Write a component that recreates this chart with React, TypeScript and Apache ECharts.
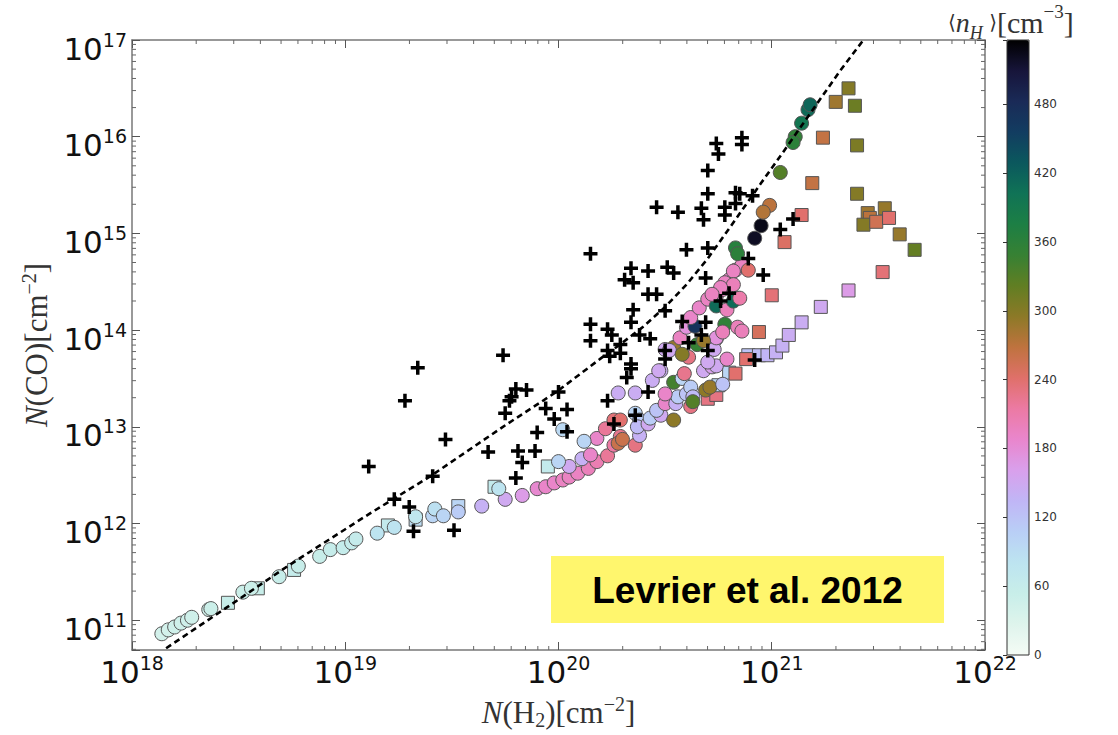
import React, { useEffect, useRef } from "react";
import * as echarts from "echarts";

// Circles: [log10 N(H2), log10 N(CO), <n_H> cm^-3]
const circles: number[][] = [
  [18.14, 10.86, 40], [18.17, 10.9, 40], [18.2, 10.93, 45], [18.23, 10.97, 45], [18.26, 11.0, 45],
  [18.28, 11.03, 45], [18.36, 11.11, 45], [18.37, 11.12, 50], [18.52, 11.29, 50], [18.56, 11.33, 50],
  [18.69, 11.45, 55], [18.78, 11.56, 55], [18.88, 11.66, 55], [18.93, 11.73, 58], [18.99, 11.75, 60],
  [19.03, 11.8, 60], [19.05, 11.84, 62], [19.15, 11.9, 80], [19.23, 11.96, 80], [19.33, 12.07, 72],
  [19.41, 12.08, 100], [19.42, 12.15, 85], [19.46, 12.08, 100], [19.53, 12.12, 110], [19.64, 12.18, 140],
  [19.75, 12.25, 150], [19.83, 12.29, 165], [19.72, 12.36, 80], [19.9, 12.36, 185], [19.94, 12.38, 190],
  [19.98, 12.42, 190], [20.02, 12.45, 195], [20.05, 12.48, 195], [20.09, 12.52, 195], [20.14, 12.57, 200],
  [20.18, 12.64, 205], [20.23, 12.7, 220], [20.26, 12.81, 215], [20.29, 12.9, 225], [20.05, 12.59, 150],
  [20.11, 12.67, 140], [20.0, 12.64, 100], [20.15, 12.71, 190], [20.18, 12.88, 190], [20.12, 12.85, 100],
  [20.22, 12.98, 220], [20.26, 13.07, 235], [20.29, 13.07, 240], [20.28, 12.83, 260], [20.3, 12.87, 260],
  [20.36, 12.81, 230], [20.36, 13.14, 100], [20.38, 13.07, 110], [20.38, 12.91, 140], [20.37, 13.0, 130],
  [20.42, 13.03, 150], [20.43, 13.09, 110], [20.48, 13.12, 150], [20.46, 13.17, 120], [20.5, 13.24, 190],
  [20.54, 13.07, 295], [20.55, 13.24, 140], [20.54, 13.46, 340], [20.58, 13.5, 100], [20.59, 13.55, 225],
  [20.56, 13.31, 110], [20.6, 13.34, 120], [20.62, 13.41, 110], [20.63, 13.31, 130], [20.62, 13.21, 230],
  [20.63, 13.26, 330], [20.68, 13.58, 150], [20.69, 13.38, 295], [20.71, 13.41, 290], [20.72, 13.62, 160],
  [20.74, 13.63, 150], [20.77, 13.44, 120], [20.28, 13.35, 145], [20.36, 13.35, 145], [20.5, 13.34, 190],
  [20.44, 13.48, 145], [20.48, 13.58, 145], [20.54, 13.82, 290], [20.61, 13.72, 230], [20.79, 13.7, 190],
  [20.74, 13.91, 150], [20.73, 13.8, 150], [20.5, 13.8, 150], [20.52, 13.79, 150], [20.57, 13.92, 195],
  [20.6, 14.03, 175], [20.64, 14.04, 470], [20.62, 14.13, 190], [20.66, 14.23, 190], [20.7, 14.32, 195],
  [20.74, 14.35, 190], [20.74, 14.25, 410], [20.79, 14.21, 200], [20.77, 14.42, 190], [20.8, 14.52, 190],
  [20.83, 14.62, 195], [20.86, 14.67, 195], [20.84, 14.33, 200], [20.82, 14.3, 410], [20.85, 14.33, 210],
  [20.78, 14.06, 355], [20.84, 14.03, 200], [20.86, 13.99, 200], [20.74, 13.92, 175], [20.89, 14.62, 240],
  [20.83, 14.85, 365], [20.84, 14.79, 360], [20.82, 14.61, 195], [20.78, 14.49, 195], [20.82, 14.47, 200],
  [20.76, 14.44, 195], [20.72, 14.37, 195], [20.65, 13.85, 350], [20.68, 13.89, 290], [20.58, 13.75, 300],
  [20.77, 13.98, 200], [20.7, 13.67, 150], [20.47, 13.58, 150], [20.95, 15.08, 525], [20.92, 14.95, 520],
  [20.99, 15.29, 270], [20.96, 15.22, 275], [21.04, 15.63, 330], [21.11, 16.0, 355], [21.1, 15.94, 360],
  [21.14, 16.14, 395], [21.17, 16.28, 410], [21.18, 16.33, 415], [20.02, 12.97, 95],
];

// Squares: [log10 N(H2), log10 N(CO), <n_H> cm^-3]
const squares: number[][] = [
  [18.45, 11.18, 55], [18.59, 11.33, 55], [18.76, 11.52, 60], [19.2, 11.98, 65], [19.33, 12.04, 90],
  [19.53, 12.18, 100], [19.7, 12.38, 65], [19.95, 12.59, 65], [20.7, 13.29, 230], [20.74, 13.33, 230],
  [20.75, 13.43, 100], [20.8, 13.56, 100], [20.83, 13.55, 240], [21.0, 14.36, 235], [20.94, 13.98, 250],
  [20.89, 13.74, 120], [20.94, 13.74, 125], [20.98, 13.74, 135], [21.02, 13.77, 140], [21.05, 13.84, 140],
  [21.08, 13.95, 145], [21.14, 14.08, 145], [21.23, 14.24, 150], [21.36, 14.41, 165], [20.88, 13.7, 240],
  [21.14, 15.19, 240], [21.06, 14.91, 245], [21.52, 14.6, 235], [21.19, 15.52, 265], [21.24, 15.99, 265],
  [21.3, 16.36, 285], [21.36, 16.5, 300], [21.39, 16.32, 315], [21.4, 15.91, 305], [21.4, 15.41, 300],
  [21.53, 15.26, 290], [21.45, 15.21, 285], [21.46, 15.16, 270], [21.43, 15.09, 300], [21.49, 15.12, 255],
  [21.55, 15.16, 240], [21.6, 14.99, 290], [21.67, 14.83, 320],
];

// Observations (black crosses): [log10 N(H2), log10 N(CO)]
const crosses: number[][] = [
  [19.11, 12.59], [19.28, 13.27], [19.34, 13.61], [19.47, 12.87], [19.41, 12.49], [19.23, 12.25],
  [19.3, 12.17], [19.32, 11.92], [19.51, 11.93], [19.67, 12.74], [19.75, 13.14], [19.77, 13.27],
  [19.78, 13.31], [19.8, 13.39], [19.85, 13.38], [19.81, 12.75], [19.83, 12.63], [19.8, 12.47],
  [19.89, 12.75], [19.9, 12.94], [19.74, 13.74], [19.94, 13.19], [20.0, 13.36], [20.04, 13.18],
  [19.98, 13.08], [20.04, 12.95], [20.23, 13.27], [20.26, 13.03], [20.36, 13.12], [20.42, 13.36],
  [20.15, 14.79], [20.15, 14.06], [20.15, 13.89], [20.23, 14.01], [20.25, 13.95], [20.23, 13.79],
  [20.24, 13.73], [20.29, 13.85], [20.29, 13.76], [20.34, 13.65], [20.34, 13.6], [20.32, 13.51],
  [20.34, 14.64], [20.42, 14.61], [20.31, 14.52], [20.35, 14.49], [20.42, 14.37], [20.46, 14.37],
  [20.35, 14.21], [20.34, 14.08], [20.38, 13.95], [20.43, 13.91], [20.51, 14.65], [20.54, 14.59],
  [20.46, 15.27], [20.56, 15.22], [20.67, 15.26], [20.68, 15.14], [20.7, 15.41], [20.78, 15.19],
  [20.78, 15.27], [20.83, 15.31], [20.83, 15.42], [20.85, 15.41], [20.91, 15.39], [20.6, 14.83],
  [20.7, 14.85], [20.69, 14.54], [20.5, 14.2], [20.58, 14.09], [20.69, 14.08], [20.67, 13.95],
  [20.61, 13.87], [20.7, 13.79], [20.5, 13.79], [20.5, 13.7], [20.76, 14.3], [20.8, 14.38],
  [20.89, 14.74], [20.96, 14.57], [20.92, 13.69], [20.74, 15.93], [20.75, 15.82], [20.86, 15.99],
  [20.86, 15.92], [20.7, 15.65], [21.1, 15.15], [21.04, 15.04],
];

// Dashed fit curve: [log10 N(H2), log10 N(CO)]
const fitCurve: number[][] = [
  [18.16, 10.71], [18.45, 11.14], [18.73, 11.56], [19.12, 12.11], [19.4, 12.49], [19.76, 13.03],
  [19.99, 13.36], [20.2, 13.71], [20.3, 13.87], [20.4, 14.04], [20.5, 14.24], [20.6, 14.47],
  [20.7, 14.74], [20.8, 15.05], [20.95, 15.52], [21.05, 15.83], [21.18, 16.24], [21.32, 16.68],
  [21.43, 17.0],
];

const xRange = [1e18, 1e22];
const yRange = [4.92e10, 1e17];
const colorbarTicks = [0, 60, 120, 180, 240, 300, 360, 420, 480];
const colorbarMax = 536;
const cmapColors = [
  "#f5fbf5", "#def4ec", "#c8eee9", "#bde4f0", "#b9cff6", "#c0b6f6", "#d9a0ec", "#e986cd",
  "#ec7aa4", "#e0706a", "#bf733f", "#8d7927", "#617e23", "#378133", "#1d7f44", "#107356",
  "#0b585d", "#123d61", "#1a2a57", "#17153a", "#000000",
];

const PLUS = "path://M5.25,0h3.5v5.25h5.25v3.5h-5.25v5.25h-3.5v-5.25h-5.25v-3.5h5.25z";

export default function App() {
  const ref = useRef<HTMLDivElement>(null);
  useEffect(() => {
    const chart = echarts.init(ref.current as HTMLDivElement, null, { renderer: "svg" });
    const lin = (p: number[]) =>
      p.length > 2 ? [Math.pow(10, p[0]), Math.pow(10, p[1]), p[2]] : [Math.pow(10, p[0]), Math.pow(10, p[1])];

    const minor: number[][] = [];
    for (let n = 18; n < 22; n++) for (let k = 2; k <= 9; k++) minor.push([k * Math.pow(10, n), 1e14, 0]);
    for (let n = 10; n < 17; n++)
      for (let k = 2; k <= 9; k++) {
        const v = k * Math.pow(10, n);
        if (v >= yRange[0]) minor.push([1e20, v, 1]);
      }

    const isDecade = (v: number) => {
      const e = Math.log10(v);
      return Math.abs(e - Math.round(e)) < 1e-6;
    };
    const tickFmt = (v: number) => (isDecade(v) ? `{b|10}{s|${Math.round(Math.log10(v))}}` : "");
    const sans = { fontFamily: "DejaVu Sans", color: "#111" };
    const serif = { fontFamily: "Liberation Serif", color: "#333" };
    const tickRich = {
      b: { ...sans, fontSize: 31, lineHeight: 34, padding: [7, 0, 0, 0], verticalAlign: "bottom" },
      s: { ...sans, fontSize: 19, lineHeight: 20, verticalAlign: "top" },
    };
    const axisLine = { show: true, lineStyle: { color: "#777", width: 1.5 } };
    const majorTick = { show: true, inside: true, length: 8, lineStyle: { color: "#555", width: 1 } };
    const nameRich = {
      i: { ...serif, fontStyle: "italic", fontSize: 31, lineHeight: 36 },
      r: { ...serif, fontSize: 31, lineHeight: 36 },
      sub: { ...serif, fontSize: 20, lineHeight: 20, verticalAlign: "bottom" },
      sup: { ...serif, fontSize: 20, lineHeight: 20, verticalAlign: "top" },
    };

    chart.setOption({
      animation: false,
      backgroundColor: "#ffffff",
      grid: [
        { left: 132, top: 40, width: 853, height: 615 },
        { left: 1007, top: 40, width: 22, height: 615 },
      ],
      xAxis: [
        {
          type: "log", logBase: 10, gridIndex: 0, min: xRange[0], max: xRange[1], position: "bottom",
          axisLine, axisTick: majorTick, splitLine: { show: false },
          axisLabel: { margin: 3, formatter: tickFmt, rich: tickRich },
          name: "{i|N}{r|(H}{sub|2}{r|)[cm}{sup|−2}{r|]}",
          nameLocation: "middle", nameGap: 44, nameTextStyle: { rich: nameRich },
        },
        {
          type: "log", logBase: 10, gridIndex: 0, min: xRange[0], max: xRange[1], position: "top",
          axisLine, axisTick: majorTick, axisLabel: { show: false }, splitLine: { show: false },
        },
        { type: "value", gridIndex: 1, min: 0, max: 1, show: false },
      ],
      yAxis: [
        {
          type: "log", logBase: 10, gridIndex: 0, min: yRange[0], max: yRange[1], position: "left",
          axisLine, axisTick: majorTick, splitLine: { show: false },
          axisLabel: { margin: 5, formatter: tickFmt, rich: tickRich, padding: [14, 0, 0, 0] },
          name: "{i|N}{r|(CO)[cm}{sup|−2}{r|]}",
          nameLocation: "middle", nameGap: 72, nameRotate: 90, nameTextStyle: { rich: nameRich },
        },
        {
          type: "log", logBase: 10, gridIndex: 0, min: yRange[0], max: yRange[1], position: "right",
          axisLine, axisTick: majorTick, axisLabel: { show: false }, splitLine: { show: false },
        },
        {
          type: "value", gridIndex: 1, min: 0, max: colorbarMax, interval: 60, position: "right",
          axisLine: { show: false }, splitLine: { show: false },
          axisTick: { show: true, inside: true, length: 4, lineStyle: { color: "#333", width: 1 } },
          axisLabel: {
            margin: 5, fontFamily: "DejaVu Sans", fontSize: 12, color: "#333",
            formatter: (v: number) => (colorbarTicks.includes(v) ? String(v) : ""),
          },
        },
      ],
      visualMap: {
        type: "continuous", min: 0, max: colorbarMax, dimension: 2, seriesIndex: [0, 1],
        inRange: { color: cmapColors }, orient: "vertical",
        left: 1007, top: 40, itemWidth: 22, itemHeight: 615, padding: 0,
        calculable: false, hoverLink: false, realtime: false, text: null, showLabel: false,
      },
      series: [
        {
          type: "scatter", name: "squares", xAxisIndex: 0, yAxisIndex: 0, symbol: "rect", symbolSize: 13,
          data: squares.map(lin), itemStyle: { borderColor: "#555", borderWidth: 1, opacity: 1 }, z: 2,
        },
        {
          type: "scatter", name: "circles", xAxisIndex: 0, yAxisIndex: 0, symbol: "circle", symbolSize: 14,
          data: circles.map(lin), itemStyle: { borderColor: "#555", borderWidth: 1, opacity: 1 }, z: 3,
        },
        {
          type: "scatter", name: "observations", xAxisIndex: 0, yAxisIndex: 0, symbol: PLUS, symbolSize: 14,
          data: crosses.map(lin), itemStyle: { color: "#000", opacity: 1 }, z: 4,
        },
        {
          type: "line", name: "fit", xAxisIndex: 0, yAxisIndex: 0, data: fitCurve.map(lin), showSymbol: false,
          symbol: "none", lineStyle: { color: "#000", width: 2.6, type: [6, 4], opacity: 1 }, z: 5, silent: true,
        },
        {
          type: "custom", name: "minorTicks", xAxisIndex: 0, yAxisIndex: 0, data: minor, silent: true, z: 6,
          renderItem: (params: any, api: any) => {
            const cs = params.coordSys;
            const st = { stroke: "#666", lineWidth: 1 };
            if (api.value(2) === 0) {
              const x = api.coord([api.value(0), 1e14])[0];
              return {
                type: "group",
                children: [
                  { type: "line", shape: { x1: x, y1: cs.y + cs.height, x2: x, y2: cs.y + cs.height - 4 }, style: st },
                  { type: "line", shape: { x1: x, y1: cs.y, x2: x, y2: cs.y + 4 }, style: st },
                ],
              };
            }
            const y = api.coord([1e20, api.value(1)])[1];
            return {
              type: "group",
              children: [
                { type: "line", shape: { x1: cs.x, y1: y, x2: cs.x + 4, y2: y }, style: st },
                { type: "line", shape: { x1: cs.x + cs.width, y1: y, x2: cs.x + cs.width - 4, y2: y }, style: st },
              ],
            };
          },
        },
      ],
      graphic: [
        {
          type: "rect", z: 50, shape: { x: 551, y: 556, width: 393, height: 67 },
          style: { fill: "#fff66d", stroke: "none" },
        },
        {
          type: "text", z: 51, x: 747.5, y: 590,
          style: {
            text: "Levrier et al. 2012", fill: "#000", font: "bold 37px 'Liberation Sans', Arial, sans-serif",
            align: "center", verticalAlign: "middle",
          },
        },
        {
          type: "rect", z: 60, shape: { x: 1007, y: 40, width: 22, height: 615 },
          style: { fill: "transparent", stroke: "#333", lineWidth: 1 },
        },
        {
          type: "text", z: 60, left: 948, top: 2,
          style: {
            text: "{a|⟨}{n|n}{h|H}{a| ⟩}{b|[cm}{sup|−3}{b|]}",
            rich: {
              a: { fontFamily: "DejaVu Sans", fontSize: 20, fill: "#333", lineHeight: 40 },
              n: { fontFamily: "Liberation Serif", fontStyle: "italic", fontSize: 28, fill: "#333", lineHeight: 40 },
              h: { fontFamily: "Liberation Serif", fontStyle: "italic", fontSize: 18, fill: "#333", lineHeight: 22, verticalAlign: "bottom" },
              b: { fontFamily: "Liberation Serif", fontSize: 30, fill: "#333", lineHeight: 40 },
              sup: { fontFamily: "Liberation Serif", fontSize: 19, fill: "#333", lineHeight: 20, verticalAlign: "top" },
            },
          },
        },
      ],
    });
    return () => chart.dispose();
  }, []);
  return (
    <div
      ref={ref}
      style={{ position: "fixed", left: 0, top: 0, width: 1118, height: 735, background: "#fff" }}
    />
  );
}
